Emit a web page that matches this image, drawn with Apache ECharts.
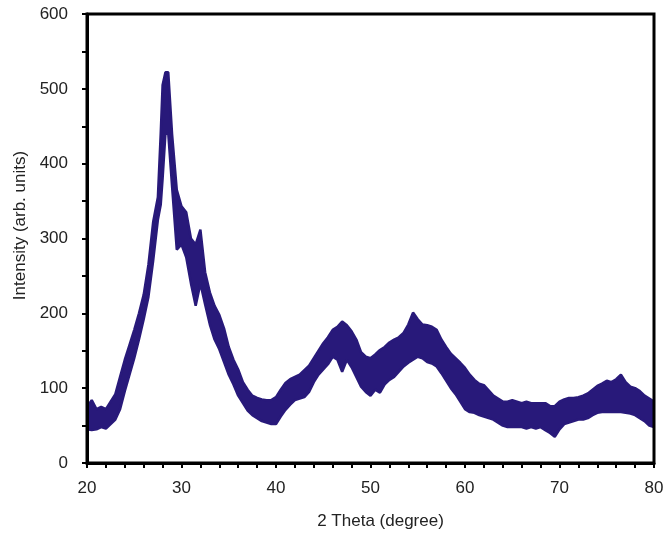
<!DOCTYPE html>
<html>
<head>
<meta charset="utf-8">
<script src="https://cdn.jsdelivr.net/npm/echarts@6/dist/echarts.min.js"></script>
<style>html,body{margin:0;padding:0;background:#fff}#c{width:667px;height:538px}</style>
</head>
<body>
<div id="c"></div>
<script>
// 2θ positions (degree)
const theta = [20,20.5,21,21.5,22,22.5,23,23.5,24,24.5,25,25.5,26,26.5,27,27.5,27.8,28,28.3,28.6,29,29.5,
  30,30.5,31,31.5,32,32.5,33,33.5,34,34.5,35,35.5,36,36.5,37,37.5,38,38.5,39,39.5,
  40,40.5,41,41.5,42,42.5,43,43.5,44,44.5,45,45.5,46,46.5,47,47.5,48,48.5,49,49.5,
  50,50.5,51,51.5,52,52.5,53,53.5,54,54.5,55,55.5,56,56.5,57,57.5,58,58.5,59,59.5,
  60,60.5,61,61.5,62,62.5,63,63.5,64,64.5,65,65.5,66,66.5,67,67.5,68,68.5,69,69.5,
  70,70.5,71,71.5,72,72.5,73,73.5,74,74.5,75,75.5,76,76.5,77,77.5,78,78.5,79,79.5,80];
// upper edge of the noisy trace (arb. units)
const upper = [75,84,72,75,72,82,92,115,138,158,178,200,225,265,322,355,440,505,522,522,440,365,
  343,335,300,292,312,255,228,210,198,180,155,138,125,108,98,90,87,85,84,84,
  88,98,107,112,115,118,124,130,140,150,160,168,178,182,189,184,176,165,148,142,
  140,145,151,155,161,165,168,174,185,201,192,185,184,182,178,165,155,146,140,134,
  127,118,111,106,104,97,90,86,82,82,84,82,80,82,80,80,80,80,76,76,
  82,85,87,87,88,90,93,98,103,106,110,108,112,118,108,102,100,96,90,86,82];
// lower edge of the noisy trace (arb. units)
const lower = [45,44,45,48,46,52,58,72,96,118,140,165,192,222,270,325,345,380,440,440,370,285,
  292,275,240,210,240,212,185,165,152,135,118,105,90,80,70,64,60,56,54,52,
  52,62,71,78,84,86,88,95,108,118,125,132,142,138,122,138,128,115,102,95,
  90,98,94,105,111,115,122,129,134,138,142,140,135,133,129,120,110,100,92,82,
  72,68,67,64,62,60,58,54,50,48,48,48,48,46,48,46,48,44,40,35,
  45,52,54,56,58,58,60,64,67,68,68,68,68,68,67,66,64,60,56,50,48];
const xTicks = [20,30,40,50,60,70,80];
const yTicks = [0,100,200,300,400,500,600];

const navy = '#28197a';
const upperData = theta.map((t,i)=>[t, upper[i]]);
const lowerData = theta.map((t,i)=>[t, lower[i]]);

const chart = echarts.init(document.getElementById('c'), null, {renderer:'canvas'});
const font = 'Liberation Sans, Arial, Helvetica, sans-serif';
chart.setOption({
  animation:false,
  grid:{left:87,right:13,top:14,bottom:75,show:true,borderColor:'#000',borderWidth:3,backgroundColor:'transparent',z:10},
  xAxis:{type:'value',min:xTicks[0],max:xTicks[xTicks.length-1],interval:10,
    name:'2 Theta (degree)',nameLocation:'middle',nameGap:50,
    nameTextStyle:{fontFamily:font,fontSize:17,color:'#222',padding:[0,0,0,20]},
    axisLine:{show:true,onZero:false,lineStyle:{color:'#000',width:3}},
    axisTick:{show:true,inside:false,length:5,lineStyle:{color:'#000',width:2}},
    minorTick:{show:true,splitNumber:5,length:5,lineStyle:{color:'#000',width:2}},
    splitLine:{show:false},
    axisLabel:{margin:17,fontFamily:font,fontSize:17,color:'#222'},z:11},
  yAxis:{type:'value',min:yTicks[0],max:yTicks[yTicks.length-1],interval:100,
    name:'Intensity (arb. units)',nameLocation:'middle',nameGap:58,
    nameTextStyle:{fontFamily:font,fontSize:17,color:'#222',padding:[0,0,0,26]},
    axisLine:{show:true,lineStyle:{color:'#000',width:3}},
    axisTick:{show:true,inside:false,length:5,lineStyle:{color:'#000',width:2}},
    minorTick:{show:true,splitNumber:2,length:5,lineStyle:{color:'#000',width:2}},
    splitLine:{show:false},
    axisLabel:{margin:19,fontFamily:font,fontSize:17,color:'#222'},z:11},
  series:[
    {type:'line',data:upperData,symbol:'none',
      lineStyle:{color:navy,width:2.5},areaStyle:{color:navy,opacity:1,origin:'start'},z:2},
    {type:'line',data:lowerData,symbol:'none',
      lineStyle:{color:navy,width:0},areaStyle:{color:'#ffffff',opacity:1,origin:'start'},z:3},
    {type:'line',data:lowerData,symbol:'none',
      lineStyle:{color:navy,width:2.5},z:4}
  ]
});
</script>
</body>
</html>
